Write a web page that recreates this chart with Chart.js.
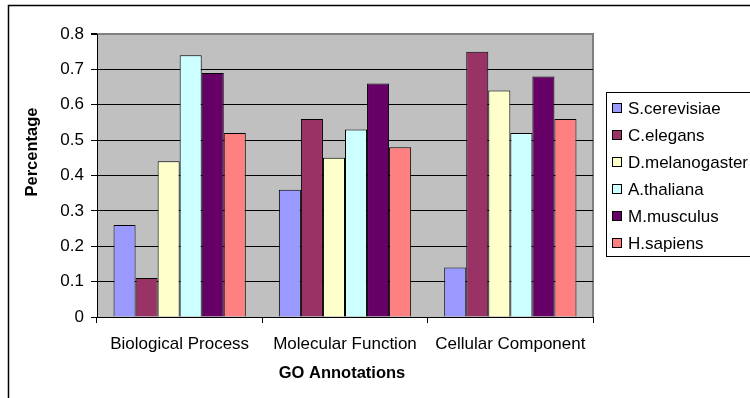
<!DOCTYPE html>
<html>
<head>
<meta charset="utf-8">
<script src="https://cdn.jsdelivr.net/npm/chart.js@4/dist/chart.umd.min.js"></script>
<style>
  html, body { margin: 0; padding: 0; background: #fff; }
  #wrap { width: 750px; height: 398px; }
</style>
</head>
<body>
<div id="wrap"><canvas id="c" width="750" height="398"></canvas></div>
<script>
// GO annotation coverage per organism
const categories = ['Biological Process', 'Molecular Function', 'Cellular Component'];
const organisms = ['S.cerevisiae', 'C.elegans', 'D.melanogaster', 'A.thaliana', 'M.musculus', 'H.sapiens'];
const sCerevisiae = [0.26, 0.36, 0.14];
const cElegans = [0.11, 0.56, 0.75];
const dMelanogaster = [0.44, 0.45, 0.64];
const aThaliana = [0.74, 0.53, 0.52];
const mMusculus = [0.69, 0.66, 0.68];
const hSapiens = [0.52, 0.48, 0.56];
const yTicks = [0, 0.1, 0.2, 0.3, 0.4, 0.5, 0.6, 0.7, 0.8];

const seriesValues = [sCerevisiae, cElegans, dMelanogaster, aThaliana, mMusculus, hSapiens];
const palette = ['#9999FF', '#993366', '#FFFFCC', '#CCFFFF', '#660066', '#FF8080'];

const FONT = '"Liberation Sans", Arial, sans-serif';

// Plot area background, outer frame, axis titles and legend box
const decor = {
  id: 'decor',
  beforeDraw(chart) {
    const { ctx, chartArea: a } = chart;
    ctx.save();
    ctx.fillStyle = '#fff';
    ctx.fillRect(0, 0, chart.width, chart.height);
    ctx.strokeStyle = '#000';
    ctx.lineWidth = 1.5;
    ctx.strokeRect(8.5, 5.5, 800, 450);
    ctx.fillStyle = '#C0C0C0';
    ctx.fillRect(a.left, a.top, a.right - a.left, a.bottom - a.top);
    ctx.strokeStyle = '#808080';
    ctx.lineWidth = 2;
    ctx.beginPath();
    ctx.moveTo(a.left, a.top);
    ctx.lineTo(a.right, a.top);
    ctx.lineTo(a.right, a.bottom);
    ctx.stroke();
    ctx.restore();
  },
  afterDraw(chart) {
    const { ctx } = chart;
    ctx.save();
    ctx.fillStyle = '#000';
    ctx.font = 'bold 16.5px ' + FONT;
    ctx.textAlign = 'center';
    ctx.textBaseline = 'middle';
    ctx.fillText('GO Annotations', 342, 373);
    ctx.translate(32, 152);
    ctx.rotate(-Math.PI / 2);
    ctx.fillText('Percentage', 0, 0);
    ctx.restore();

    // legend
    ctx.save();
    ctx.strokeStyle = '#000';
    ctx.lineWidth = 1;
    ctx.fillStyle = '#fff';
    ctx.fillRect(606.5, 92.5, 200, 164);
    ctx.strokeRect(606.5, 92.5, 200, 164);
    ctx.font = '17px ' + FONT;
    ctx.textBaseline = 'middle';
    chart.data.datasets.forEach((ds, i) => {
      const cy = 108 + i * 27;
      ctx.fillStyle = ds.backgroundColor;
      ctx.fillRect(612.5, cy - 4.5, 9, 9);
      ctx.strokeStyle = '#000';
      ctx.strokeRect(612.5, cy - 4.5, 9, 9);
      ctx.fillStyle = '#000';
      ctx.fillText(ds.label, 628, cy + 1);
    });
    ctx.restore();
  }
};

new Chart(document.getElementById('c'), {
  type: 'bar',
  data: {
    labels: categories,
    datasets: organisms.map((name, i) => ({
      label: name,
      data: seriesValues[i],
      backgroundColor: palette[i],
      borderColor: '#000',
      borderWidth: 1,
      barPercentage: 1.0,
      categoryPercentage: 0.8
    }))
  },
  options: {
    responsive: false,
    animation: false,
    devicePixelRatio: 1,
    layout: { padding: { left: 0, top: 34, right: 157, bottom: 0 } },
    plugins: { legend: { display: false }, tooltip: { enabled: false } },
    scales: {
      x: {
        afterFit(scale) { scale.height = 81; },
        grid: {
          offset: true,
          drawOnChartArea: false,
          drawTicks: true,
          tickLength: 6,
          tickColor: '#000'
        },
        border: { color: '#000', width: 1 },
        ticks: { color: '#000', font: { family: FONT, size: 17 }, padding: 11, maxRotation: 0 }
      },
      y: {
        min: 0,
        max: 0.8,
        afterFit(scale) { scale.width = 97; },
        afterBuildTicks(scale) { scale.ticks = yTicks.map(v => ({ value: v })); },
        grid: {
          color: ctx => (ctx.tick && ctx.tick.value === 0.8 ? '#808080' : '#000'),
          lineWidth: ctx => (ctx.tick && ctx.tick.value === 0.8 ? 2 : 1),
          tickColor: '#000',
          tickLength: 6
        },
        border: { color: '#000', width: 1 },
        ticks: {
          color: '#000',
          font: { family: FONT, size: 17 },
          padding: 7,
          callback: v => String(Math.round(v * 10) / 10)
        }
      }
    }
  },
  plugins: [decor]
});
</script>
</body>
</html>
